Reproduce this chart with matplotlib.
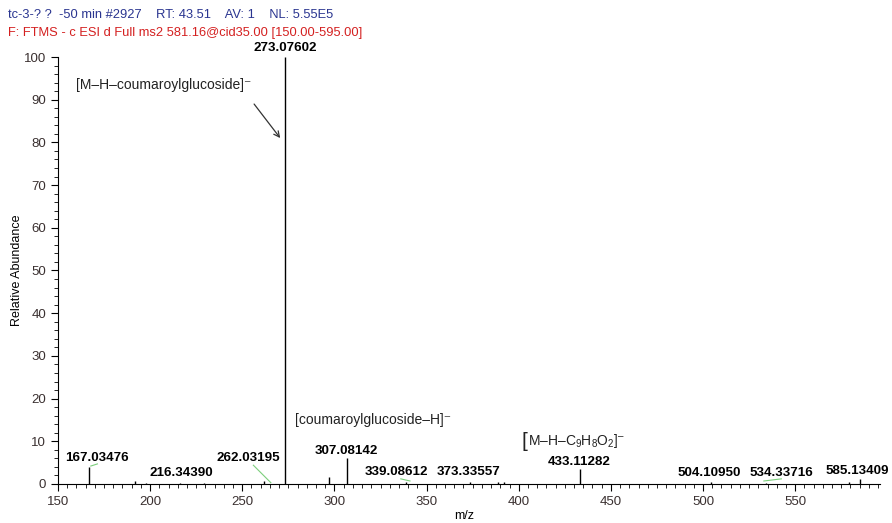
import matplotlib
matplotlib.use("Agg")
import matplotlib.pyplot as plt
from matplotlib.ticker import MultipleLocator

plt.rcParams['font.family'] = ['Liberation Sans', 'DejaVu Sans']
plt.rcParams['mathtext.fontset'] = 'custom'
plt.rcParams['mathtext.rm'] = 'Liberation Sans'
plt.rcParams['mathtext.it'] = 'Liberation Sans:italic'

# peaks (m/z, relative abundance)
peak_mz = [167.03476, 191.8, 198.0, 216.3439, 229.0, 262.03195, 273.07602,
           297.0, 307.08142, 339.08612, 373.33557, 389.0, 392.0, 433.11282,
           504.1095, 534.33716, 579.0, 585.13409]
peak_int = [4.0, 0.8, 0.3, 0.3, 0.3, 0.8, 100.0,
            1.7, 6.1, 0.5, 0.4, 0.5, 0.5, 3.4,
            0.4, 0.3, 0.4, 1.2]

# labelled peaks: text, and label centre (m/z, abundance)
label_text = ["167.03476", "216.34390", "262.03195", "273.07602", "307.08142",
              "339.08612", "373.33557", "433.11282", "504.10950", "534.33716",
              "585.13409"]
label_x = [170.9, 216.7, 253.1, 273.2, 306.5, 333.4, 373.0, 432.7, 503.2, 542.8, 583.5]
label_y = [6.1, 2.6, 6.1, 102.0, 7.7, 2.8, 2.8, 5.2, 2.6, 2.6, 3.0]

fig = plt.figure(figsize=(8.92, 5.23), dpi=100)
ax = fig.add_axes([0.065, 0.0746, 0.9215, 0.8164])

ax.vlines(peak_mz, 0, peak_int, colors='black', linewidth=1.0)
ax.set_xlim(150, 596)
ax.set_ylim(0, 100)

for sp in ['top', 'right']:
    ax.spines[sp].set_visible(False)
for sp in ['left', 'bottom']:
    ax.spines[sp].set_linewidth(0.8)

ax.xaxis.set_major_locator(MultipleLocator(50))
ax.xaxis.set_minor_locator(MultipleLocator(5))
ax.yaxis.set_major_locator(MultipleLocator(10))
ax.yaxis.set_minor_locator(MultipleLocator(2))
ax.tick_params(which='major', length=5, width=0.8, labelsize=9.5, labelcolor='#3a3030')
ax.tick_params(which='minor', length=3, width=0.6)
ax.set_xlabel("m/z", fontsize=9)
ax.set_ylabel("Relative Abundance", fontsize=9)
ax.xaxis.set_label_coords(0.494, -0.062)
ax.yaxis.set_label_coords(-0.042, 0.5)

for t, x, y in zip(label_text, label_x, label_y):
    ax.text(x, y, t, ha='center', va='center', fontsize=9.6, fontweight='bold',
            clip_on=False)

# green leader lines
green = '#7ccf7c'
ax.plot([167.8, 171.4], [4.2, 4.7], color=green, lw=0.8)
ax.plot([256.0, 265.5], [4.4, 0.3], color=green, lw=0.8)
ax.plot([336.0, 341.0], [1.2, 0.7], color=green, lw=0.8)
ax.plot([533.0, 542.5], [0.7, 1.2], color=green, lw=0.8)

# annotations
ax.text(0.022, 0.935, "[M\u2013H\u2013coumaroylglucoside]\u207b", transform=ax.transAxes,
        fontsize=10, color='#222222', va='center', ha='left')
ax.annotate("", xy=(271.5, 80.5), xytext=(255.5, 89.5),
            arrowprops=dict(arrowstyle='->', color='#333333', lw=0.9))
ax.text(0.288, 0.15, "[coumaroylglucoside\u2013H]\u207b", transform=ax.transAxes,
        fontsize=10, color='#222222', va='center', ha='left')
ax.text(401.5, 10.0, "[", fontsize=15, color='#222222', va='center', ha='left')
ax.text(405.3, 10.0, "M\u2013H\u2013C$_9$H$_8$O$_2$]$^{\u2013}$",
        fontsize=10, color='#222222', va='center', ha='left')

# header
fig.text(0.009, 0.972, "tc-3-? ?  -50 min #2927    RT: 43.51    AV: 1    NL: 5.55E5",
         fontsize=9.3, color='#2a3590', va='center')
fig.text(0.009, 0.936, "F: FTMS - c ESI d Full ms2 581.16@cid35.00 [150.00-595.00]",
         fontsize=9.3, color='#d42020', va='center')

fig.savefig("out.png", dpi=100)
